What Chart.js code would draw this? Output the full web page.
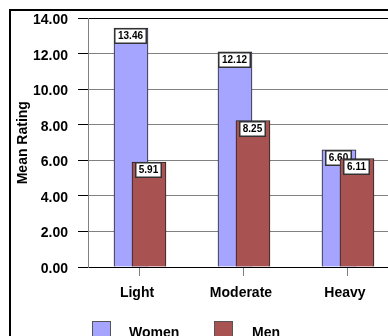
<!DOCTYPE html>
<html><head><meta charset="utf-8">
<script src="https://cdn.jsdelivr.net/npm/chart.js@4"></script>
<style>
html,body{margin:0;padding:0;background:#fff;overflow:hidden;width:388px;height:336px}
#wrap{position:relative;width:388px;height:336px;overflow:hidden;background:#fff}
#cv{position:absolute;left:0;top:0;display:block}
.lg{position:absolute;font:bold 14px "Liberation Sans",Arial,sans-serif;color:#000;line-height:14px;white-space:nowrap}
.sw{position:absolute;width:17px;height:20px;border:1px solid #555}
</style></head><body>
<div id="wrap">
<canvas id="cv" width="388" height="336"></canvas>
</div>
<script>
// ---- data ----
const categories = ['Light', 'Moderate', 'Heavy'];
const seriesNames = ['Women', 'Men'];
const women = [13.46, 12.12, 6.60];
const men = [5.91, 8.25, 6.11];
const yTicks = [0, 2, 4, 6, 8, 10, 12, 14];
const seriesColors = ['#A5A5FF', '#A85252'];

const FONT = "'Liberation Sans', Arial, sans-serif";
const SHIFT = 0.0865;        // half-offset of the overlapping bars, in category units
const X_VISIBLE_MAX = 2.385; // the original chart is cut off on the right

// HTML legend
const wrap = document.getElementById('wrap');
const legendPos = [{box: 92, text: 129}, {box: 214, text: 252}];
seriesNames.forEach((name, i) => {
  const sw = document.createElement('div');
  sw.className = 'sw';
  sw.style.left = legendPos[i].box + 'px';
  sw.style.top = '321px';
  sw.style.background = seriesColors[i];
  wrap.appendChild(sw);
  const t = document.createElement('div');
  t.className = 'lg';
  t.style.left = legendPos[i].text + 'px';
  t.style.top = '325px';
  t.textContent = name;
  wrap.appendChild(t);
});

const frame = {
  id: 'frame',
  beforeDraw(chart) {
    const ctx = chart.ctx;
    ctx.save();
    ctx.fillStyle = '#fff';
    ctx.fillRect(0, 0, chart.width, chart.height);
    ctx.fillStyle = '#000';
    ctx.fillRect(9, 9, 2, chart.height);
    ctx.fillRect(9, 9, chart.width, 2);
    ctx.restore();
  }
};

const valueLabels = {
  id: 'valueLabels',
  afterDatasetDraw(chart, args) {
    const ctx = chart.ctx;
    const meta = args.meta;
    const ds = chart.data.datasets[args.index];
    ctx.save();
    ctx.font = 'bold 10px ' + FONT;
    meta.data.forEach((el, i) => {
      const txt = ds.data[i].y.toFixed(2);
      const w = Math.round(ctx.measureText(txt).width) + 8;
      const h = 16;
      const x = Math.round(el.x - w / 2), y = Math.round(el.y);
      ctx.fillStyle = '#fff';
      ctx.fillRect(x, y, w, h);
      ctx.strokeStyle = '#333';
      ctx.lineWidth = 1.5;
      ctx.strokeRect(x + 0.75, y + 0.75, w - 1.5, h - 1.5);
      ctx.fillStyle = '#000';
      ctx.textAlign = 'center';
      ctx.textBaseline = 'middle';
      ctx.fillText(txt, x + w / 2, y + h / 2 + 0.5);
    });
    ctx.restore();
  }
};

const seriesData = [women, men];
const datasets = seriesNames.map((name, s) => ({
  label: name,
  data: seriesData[s].map((v, i) => ({x: i + (s === 0 ? -SHIFT : SHIFT), y: v})),
  backgroundColor: seriesColors[s],
  borderColor: '#222',
  borderWidth: 1,
  barThickness: 34,
  grouped: false,
  order: s === 0 ? 1 : 0
}));

new Chart(document.getElementById('cv'), {
  type: 'bar',
  data: { datasets },
  plugins: [frame, valueLabels],
  options: {
    responsive: false,
    animation: false,
    layout: { padding: { left: 10, top: 16, right: 0, bottom: 29 } },
    plugins: { legend: { display: false }, tooltip: { enabled: false } },
    scales: {
      x: {
        type: 'linear',
        min: -0.5,
        max: X_VISIBLE_MAX,
        offset: false,
        afterBuildTicks: (scale) => { scale.ticks = categories.map((c, i) => ({value: i})); },
        afterFit: (scale) => { scale.height = 40; },
        ticks: {
          callback: (v) => categories[v],
          font: { family: FONT, size: 14, weight: 'bold' },
          color: '#000',
          padding: 9,
          labelOffset: -3,
          maxRotation: 0,
          autoSkip: false
        },
        grid: { drawOnChartArea: false, drawTicks: true, tickLength: 9, tickColor: '#808080', offset: false },
        border: { color: '#000', width: 1 }
      },
      y: {
        min: 0,
        max: 14,
        afterBuildTicks: (scale) => { scale.ticks = yTicks.map(v => ({value: v})); },
        afterFit: (scale) => { scale.width = 78; },
        ticks: {
          callback: (v) => Number(v).toFixed(2),
          font: { family: FONT, size: 14, weight: 'bold' },
          color: '#000',
          padding: 10,
          labelOffset: 2
        },
        grid: {
          color: (c) => (c.tick && (c.tick.value === 0 || c.tick.value === 14)) ? '#000' : '#808080',
          tickColor: '#000',
          tickLength: 10,
          lineWidth: 1
        },
        border: { color: '#808080', width: 1 },
        title: {
          display: true,
          text: 'Mean Rating',
          font: { family: FONT, size: 14, weight: 'bold' },
          color: '#000',
          padding: { top: 5, bottom: 0 }
        }
      }
    }
  }
});
</script>
</body></html>
